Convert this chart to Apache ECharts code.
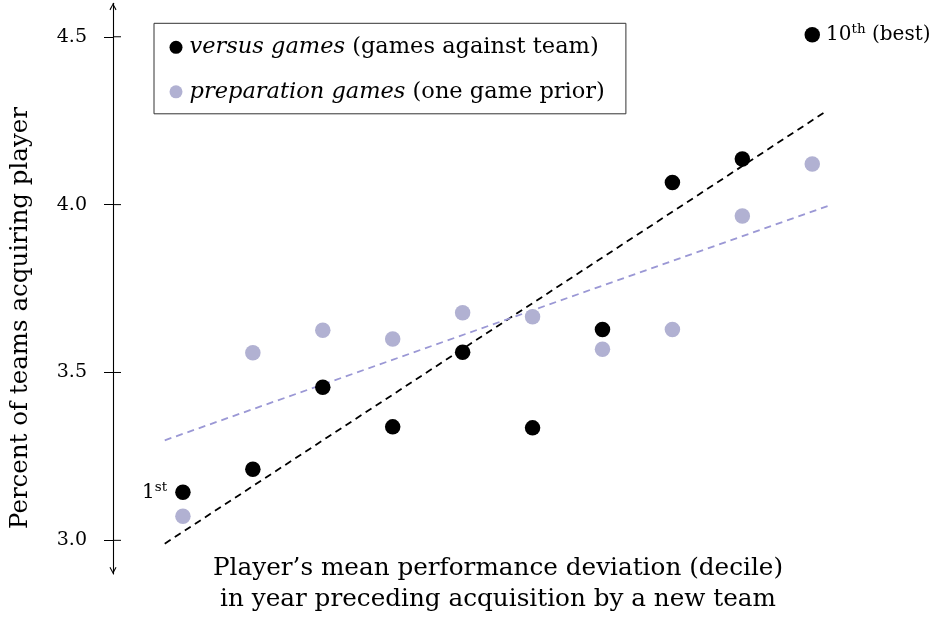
<!DOCTYPE html>
<html>
<head>
<meta charset="utf-8">
<script src="https://cdn.jsdelivr.net/npm/echarts@6/dist/echarts.min.js"></script>
<style>
  html, body { margin: 0; padding: 0; background: #fff; }
  #chart { width: 940px; height: 617px; }
</style>
</head>
<body>
<div id="chart"></div>
<script>
// decile of the player's performance deviation
const deciles = [1, 2, 3, 4, 5, 6, 7, 8, 9, 10];
// percent of teams acquiring player
const versusValues = [3.143, 3.212, 3.456, 3.338, 3.560, 3.335, 3.628, 4.066, 4.136, 4.506];
const prepValues = [3.072, 3.559, 3.626, 3.600, 3.678, 3.666, 3.569, 3.628, 3.966, 4.121];
// dashed fit lines, end points
const versusFitX = [0.74, 10.19];
const versusFitY = [2.990, 4.277];
const prepFitX = [0.74, 10.25];
const prepFitY = [3.298, 3.998];
const yTicks = [3.0, 3.5, 4.0, 4.5];

const seriesNames = ['versus games', 'preparation games'];
const seriesNotes = ['(games against team)', '(one game prior)'];
const yTitle = 'Percent of teams acquiring player';
const xTitle = 'Player\u2019s mean performance deviation (decile)\nin year preceding acquisition by a new team';

const FONT = '"DejaVu Serif", serif';
const BLACK = '#000000';
const LAVENDER = '#b1b1d2';
const LAVENDER_LINE = '#9b98d5';

const versusData = deciles.map(function (d, i) {
  const item = { value: [d, versusValues[i]] };
  if (i === 0) {
    item.label = { show: true, position: 'left', distance: 8, formatter: '{n|1}{s|st}' };
  } else if (i === deciles.length - 1) {
    item.label = { show: true, position: 'right', distance: 6, formatter: '{n|10}{s|th}{n| (best)}' };
  }
  return item;
});
const prepData = deciles.map(function (d, i) { return [d, prepValues[i]]; });

const arrowPath = 'path://M5,0 L10,9 L8.7,10 L5,3 L1.3,10 L0,9 Z';

const chart = echarts.init(document.getElementById('chart'));
chart.setOption({
  animation: false,
  backgroundColor: '#ffffff',
  grid: { left: 113, right: 57.8, top: 3.2, bottom: 43.1, containLabel: false },
  xAxis: {
    type: 'value', min: 0, max: 11,
    axisLine: { show: false, onZero: false }, axisTick: { show: false },
    axisLabel: { show: false }, splitLine: { show: false }
  },
  yAxis: {
    type: 'value', min: 2.9, max: 4.6, position: 'left',
    axisLine: {
      show: true, onZero: false,
      lineStyle: { color: '#000', width: 1.1 },
      symbol: [arrowPath, arrowPath],
      symbolSize: [8, 7],
      symbolOffset: [3.5, -3.5]
    },
    axisTick: { show: true, inside: false, length: 9, customValues: yTicks, lineStyle: { color: '#000', width: 1 } },
    axisLabel: {
      customValues: yTicks, margin: 26, color: '#000',
      fontFamily: FONT, fontSize: 19,
      formatter: function (v) { return v.toFixed(1); }
    },
    splitLine: { show: false }
  },
  legend: {
    data: seriesNames,
    orient: 'vertical',
    left: 154, top: 23.3,
    padding: [11, 21, 9, 15.5],
    itemWidth: 17, itemHeight: 13, itemGap: 18.5,
    icon: 'circle',
    backgroundColor: '#fff',
    borderColor: '#333', borderWidth: 1, borderRadius: 0,
    textStyle: {
      fontFamily: FONT, fontSize: 22.5, color: '#000', lineHeight: 26,
      rich: { i: { fontFamily: FONT, fontSize: 22.5, fontStyle: 'italic', color: '#000' } }
    },
    formatter: function (name) {
      return '{i|' + name + '} ' + seriesNotes[seriesNames.indexOf(name)];
    }
  },
  graphic: [
    {
      type: 'text', x: 21, y: 318, rotation: Math.PI / 2,
      style: { text: yTitle, fontFamily: FONT, fontSize: 24.5, fill: '#000', textAlign: 'center', textVerticalAlign: 'middle' }
    },
    {
      type: 'text', x: 498, y: 584,
      style: { text: xTitle, fontFamily: FONT, fontSize: 24.7, lineHeight: 31.6, fill: '#000', textAlign: 'center', textVerticalAlign: 'middle' }
    }
  ],
  series: [
    {
      // inner half of the y ticks (pgfplots ticks cross the axis line)
      name: 'inner ticks', type: 'custom', silent: true, clip: false,
      data: yTicks.map(function (v) { return [0, v]; }),
      renderItem: function (params, api) {
        const p = api.coord([api.value(0), api.value(1)]);
        return {
          type: 'line',
          shape: { x1: p[0], y1: p[1], x2: p[0] + 8, y2: p[1] },
          style: { stroke: '#000', lineWidth: 1 }
        };
      },
      z: 4
    },
    {
      name: 'versus fit', type: 'line', symbol: 'none', silent: true,
      data: versusFitX.map(function (x, i) { return [x, versusFitY[i]]; }),
      lineStyle: { color: BLACK, width: 1.8, type: [7, 5] }, z: 1
    },
    {
      name: 'preparation fit', type: 'line', symbol: 'none', silent: true,
      data: prepFitX.map(function (x, i) { return [x, prepFitY[i]]; }),
      lineStyle: { color: LAVENDER_LINE, width: 1.8, type: [7, 5] }, z: 1
    },
    {
      name: seriesNames[1], type: 'scatter', symbol: 'circle', symbolSize: 15.5,
      itemStyle: { color: LAVENDER, opacity: 1 }, data: prepData, z: 2
    },
    {
      name: seriesNames[0], type: 'scatter', symbol: 'circle', symbolSize: 15.5,
      itemStyle: { color: BLACK, opacity: 1 }, data: versusData, z: 3,
      label: {
        color: '#000',
        rich: {
          n: { fontFamily: FONT, fontSize: 20, color: '#000', lineHeight: 24 },
          s: { fontFamily: FONT, fontSize: 13.5, color: '#000', verticalAlign: 'top', lineHeight: 14 }
        }
      }
    }
  ]
});
</script>
</body>
</html>
